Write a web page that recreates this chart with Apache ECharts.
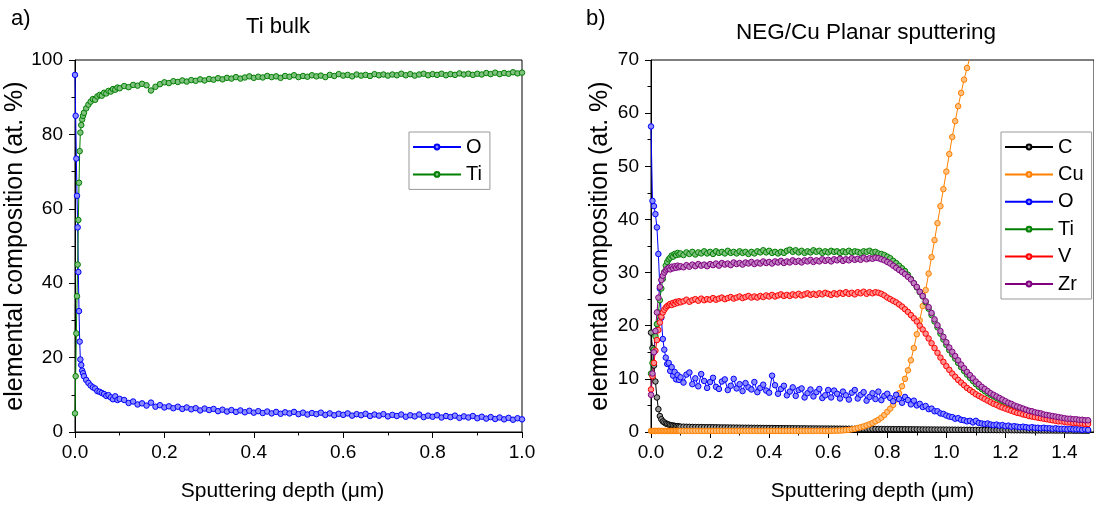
<!DOCTYPE html>
<html>
<head>
<meta charset="utf-8">
<script src="https://cdn.jsdelivr.net/npm/echarts@6/dist/echarts.min.js"></script>
<style>html,body{margin:0;padding:0;background:#fff}#c{width:1094px;height:508px}</style>
</head>
<body>
<div id="c"></div>
<script>
// ---------- Panel a) Ti bulk ----------
const depthA = [0,0.0015,0.003,0.0045,0.006,0.0075,0.009,0.0105,0.012,0.014,0.016,0.018,0.02,0.025,0.03,0.035,0.04,0.045,0.05,0.055,0.06,0.065,0.07,0.075,0.08,0.085,0.09,0.095,0.1,
0.11,0.12,0.13,0.14,0.15,0.16,0.17,0.18,0.19,0.20,
0.21,0.22,0.23,0.24,0.25,0.26,0.27,0.28,0.29,0.30,
0.31,0.32,0.33,0.34,0.35,0.36,0.37,0.38,0.39,0.40,
0.41,0.42,0.43,0.44,0.45,0.46,0.47,0.48,0.49,0.50,
0.51,0.52,0.53,0.54,0.55,0.56,0.57,0.58,0.59,0.60,
0.61,0.62,0.63,0.64,0.65,0.66,0.67,0.68,0.69,0.70,
0.71,0.72,0.73,0.74,0.75,0.76,0.77,0.78,0.79,0.80,
0.81,0.82,0.83,0.84,0.85,0.86,0.87,0.88,0.89,0.90,
0.91,0.92,0.93,0.94,0.95,0.96,0.97,0.98,0.99,1.00];

const oA = [96,85,73.5,63.5,55,43,32.5,24.3,19.5,18,16.5,15.8,15,14,13.2,12.5,12,11.7,11,10.8,10.5,10.2,9.7,9.9,9.3,8.8,9.6,8.6,8.9,
8.6,7.8,8.2,7.4,7.7,7.1,7.9,6.8,7.2,6.6,
6.9,6.4,6.8,6.2,6.6,6.1,6.4,5.8,6.3,5.9,
6.2,5.6,6.0,5.5,5.9,5.4,5.8,5.3,5.7,5.2,
5.6,5.1,5.5,5.0,5.4,4.9,5.3,5.0,5.4,4.8,
5.2,4.7,5.1,4.8,5.2,4.6,5.0,4.5,4.9,4.6,
5.0,4.4,4.8,4.5,4.9,4.3,4.7,4.4,4.8,4.2,
4.6,4.3,4.7,4.1,4.5,4.2,4.7,4.0,4.4,4.1,
4.5,3.9,4.3,4.0,4.4,3.8,4.2,3.9,4.3,3.7,
4.1,3.6,4.0,3.5,3.9,3.4,3.8,3.3,3.7,3.4];

const tiA = [5,15,26.5,36.5,45,57,67,75.5,80.5,82.5,84,85,85.8,87,88,88.8,89.5,89.3,90.2,90.6,90.4,91.2,91,91.7,91.5,92.2,92,92.6,92.4,
93.0,92.7,93.3,93.1,93.6,93.2,91.8,92.8,93.5,94.0,
93.8,94.3,94.1,94.5,94.2,94.6,94.4,94.8,94.5,94.9,
94.7,95.1,94.8,95.2,95.0,95.4,95.0,95.3,95.6,95.2,
95.5,95.3,95.7,95.4,95.6,95.2,95.7,95.5,95.9,95.4,
95.7,95.5,95.9,95.6,95.8,95.4,96.0,95.7,96.2,95.8,
96.0,95.6,96.1,95.8,96.0,95.7,96.2,95.9,96.1,95.8,
96.1,95.9,96.3,95.9,96.2,95.8,96.1,96.3,95.9,96.2,
96.0,96.3,95.9,96.2,96.0,96.4,96.1,96.3,96.0,96.3,
96.1,96.5,96.2,96.6,96.2,96.5,96.3,96.7,96.4,96.6];

// ---------- Panel b) NEG/Cu Planar sputtering ----------
const depthB = [0,0.005,0.01,0.015,0.02,0.025,0.03,0.035,0.04,0.045,0.05,0.055,0.06,0.065,0.07,0.075,0.08,0.085,0.09,0.095,0.1,
0.11,0.12,0.13,0.14,0.15,0.16,0.17,0.18,0.19,0.20,
0.21,0.22,0.23,0.24,0.25,0.26,0.27,0.28,0.29,0.30,
0.31,0.32,0.33,0.34,0.35,0.36,0.37,0.38,0.39,0.40,
0.41,0.42,0.43,0.44,0.45,0.46,0.47,0.48,0.49,0.50,
0.51,0.52,0.53,0.54,0.55,0.56,0.57,0.58,0.59,0.60,
0.61,0.62,0.63,0.64,0.65,0.66,0.67,0.68,0.69,0.70,
0.71,0.72,0.73,0.74,0.75,0.76,0.77,0.78,0.79,0.80,
0.81,0.82,0.83,0.84,0.85,0.86,0.87,0.88,0.89,0.90,
0.91,0.92,0.93,0.94,0.95,0.96,0.97,0.98,0.99,1.00,
1.01,1.02,1.03,1.04,1.05,1.06,1.07,1.08,1.09,1.10,
1.11,1.12,1.13,1.14,1.15,1.16,1.17,1.18,1.19,1.20,
1.21,1.22,1.23,1.24,1.25,1.26,1.27,1.28,1.29,1.30,
1.31,1.32,1.33,1.34,1.35,1.36,1.37,1.38,1.39,1.40,
1.41,1.42,1.43,1.44,1.45,1.46,1.47,1.48];

const cB = [18.7,15.8,12.5,9.5,6.5,4.3,3.0,2.4,2.0,1.8,1.6,1.5,1.4,1.3,1.25,1.2,1.15,1.1,1.1,1.05,1.0,
1.0,0.98,0.97,0.95,0.94,0.93,0.92,0.91,0.9,0.9,
0.89,0.88,0.87,0.86,0.86,0.85,0.84,0.83,0.83,0.82,
0.81,0.8,0.8,0.79,0.78,0.78,0.77,0.76,0.76,0.75,
0.75,0.74,0.73,0.73,0.72,0.72,0.71,0.71,0.7,0.7,
0.69,0.69,0.68,0.68,0.67,0.67,0.66,0.66,0.65,0.65,
0.64,0.64,0.63,0.63,0.62,0.62,0.61,0.61,0.6,0.6,
0.59,0.59,0.58,0.58,0.57,0.57,0.56,0.56,0.55,0.55,
0.54,0.54,0.53,0.53,0.52,0.52,0.51,0.51,0.5,0.5,
0.49,0.49,0.48,0.48,0.47,0.47,0.46,0.46,0.45,0.45,
0.44,0.44,0.43,0.43,0.42,0.42,0.41,0.41,0.4,0.4,
0.39,0.39,0.38,0.38,0.37,0.37,0.36,0.36,0.35,0.35,
0.34,0.34,0.33,0.33,0.32,0.32,0.31,0.31,0.3,0.3,
0.3,0.29,0.29,0.28,0.28,0.28,0.27,0.27,0.27,0.26,
0.26,0.26,0.25,0.25,0.25,0.24,0.24,0.24];

const cuB = [0.2,0.2,0.2,0.2,0.2,0.2,0.2,0.2,0.2,0.2,0.2,0.2,0.2,0.2,0.2,0.2,0.2,0.2,0.2,0.2,0.2,
0.2,0.2,0.2,0.2,0.2,0.2,0.2,0.2,0.2,0.2,
0.2,0.2,0.2,0.2,0.2,0.2,0.2,0.2,0.2,0.2,
0.2,0.2,0.2,0.2,0.2,0.2,0.2,0.2,0.2,0.2,
0.2,0.2,0.2,0.2,0.2,0.2,0.2,0.2,0.2,0.2,
0.2,0.2,0.2,0.2,0.2,0.2,0.2,0.2,0.2,0.2,
0.22,0.23,0.25,0.27,0.3,0.35,0.4,0.5,0.6,0.75,
0.9,1.05,1.25,1.45,1.7,2.0,2.3,2.7,3.2,3.8,
4.4,5.1,6.1,7.3,8.6,10.0,11.6,13.5,15.8,18.4,
21.0,23.7,26.7,29.8,32.9,36.1,39.3,42.5,45.7,49.0,
52.3,55.5,58.5,61.3,63.8,66.3,68.5,70.5,72.5];

const oB = [57.5,43.5,42.5,41,38.5,33.5,27,21.5,17.5,15.5,14,12.8,13,11.5,12.2,10.6,11.3,9.9,10.7,9.8,10.3,
9.3,10.8,11.2,9.0,10.1,8.6,10.9,9.6,8.3,9.4,
10.2,8.5,8.1,9.5,9.9,7.9,8.7,10.0,8.2,9.0,
7.7,9.2,8.4,8.0,9.4,7.5,8.3,8.9,7.8,7.4,
10.6,8.8,7.2,8.1,8.7,6.9,7.6,8.4,6.8,7.9,
8.2,6.5,7.3,8.0,6.7,7.5,8.1,6.4,6.9,7.9,
6.5,7.8,7.2,6.3,7.6,6.9,6.1,7.4,7.9,6.3,
7.0,7.5,5.9,6.6,7.3,6.2,7.6,6.0,6.8,7.2,
6.4,5.8,7.0,6.2,5.5,6.6,6.0,5.2,5.9,5.0,
5.3,4.7,4.9,4.3,4.4,3.9,3.9,3.5,3.4,3.1,
2.9,2.8,2.5,2.6,2.3,2.2,2.0,2.1,1.8,2.1,
1.7,1.6,1.5,1.6,1.4,1.3,1.4,1.2,1.3,1.1,
1.2,1.0,1.1,1.0,0.9,1.0,0.9,0.8,0.9,0.8,
0.8,0.7,0.8,0.7,0.7,0.6,0.7,0.6,0.6,0.6,
0.5,0.6,0.5,0.5,0.5,0.4,0.5,0.4];

const tiB = [11,13,15.5,18,20.3,22.5,24.8,27,28.8,30.1,31.3,32.0,32.5,32.8,33.2,33.0,33.5,33.3,33.7,33.4,33.6,
33.3,33.8,33.5,33.9,33.4,33.8,33.6,34.0,33.6,33.9,
33.5,34.0,33.7,33.9,33.6,34.1,33.7,33.9,33.6,34.0,
33.7,33.9,33.5,33.9,33.6,34.0,33.8,34.2,33.8,34.1,
33.7,33.9,33.6,33.9,33.7,34.1,34.3,33.9,34.2,33.8,
34.1,33.7,34.0,33.8,34.2,33.9,34.1,33.7,34.0,33.8,
34.1,33.9,34.0,33.7,34.0,33.8,34.1,33.8,34.0,33.9,
33.7,34.0,33.9,34.1,33.8,33.9,33.6,33.5,33.3,33.0,
32.7,32.2,31.8,31.3,30.8,30.3,29.6,28.8,28.0,27.2,
26.3,25.5,24.4,23.2,22.0,20.8,19.7,18.5,17.4,16.4,
15.4,14.6,13.8,13.0,12.2,11.5,10.8,10.2,9.6,9.0,
8.5,8.1,7.7,7.3,7.0,6.7,6.4,6.1,5.8,5.5,
5.2,5.0,4.7,4.5,4.3,4.1,3.9,3.8,3.6,3.5,
3.3,3.2,3.1,3.0,2.9,2.8,2.7,2.6,2.5,2.4,
2.3,2.2,2.2,2.1,2.0,2.0,1.9,1.9];

const vB = [8,10.5,13,15.3,17.3,19.2,20.6,21.7,22.5,23.0,23.4,23.7,23.9,24.1,23.9,24.3,24.1,24.5,24.3,24.6,24.4,
24.6,24.9,24.5,24.8,25.0,24.7,25.1,24.8,25.0,24.9,
25.2,24.9,25.1,25.3,25.0,25.2,25.4,25.1,25.3,25.5,
25.2,25.4,25.6,25.3,25.5,25.3,25.6,25.4,25.7,25.5,
25.8,25.5,25.7,25.9,25.6,25.8,25.6,25.9,25.7,26.0,
25.7,25.9,26.1,25.8,26.0,25.8,26.1,25.9,26.2,26.0,
25.8,26.1,25.9,26.2,26.0,26.3,26.0,26.2,25.9,26.3,
26.1,26.4,26.0,26.3,26.1,26.3,26.2,26.0,25.7,25.3,
25.0,24.7,24.4,24.0,23.6,23.1,22.6,22.0,21.4,20.8,
20.0,19.3,18.5,17.6,16.7,15.8,14.9,14.0,13.2,12.4,
11.7,11.0,10.4,9.8,9.3,8.8,8.3,7.9,7.5,7.1,
6.8,6.5,6.2,5.9,5.6,5.3,5.1,4.8,4.6,4.4,
4.2,4.0,3.8,3.6,3.5,3.3,3.2,3.0,2.9,2.8,
2.7,2.6,2.5,2.4,2.3,2.2,2.1,2.0,2.0,1.9,
1.8,1.8,1.7,1.7,1.6,1.6,1.5,1.5];

const zrB = [7,11,15,19,22.5,25.3,27.3,28.6,29.4,30.0,30.4,30.7,30.9,30.6,31.1,30.8,31.2,30.9,31.3,31.0,31.2,
31.0,31.4,31.1,31.5,31.2,31.6,31.3,31.5,31.2,31.6,
31.4,31.7,31.3,31.8,31.5,31.7,31.4,31.9,31.6,31.8,
31.5,31.9,31.7,32.0,31.6,31.9,31.7,32.1,31.8,32.0,
31.7,32.1,31.9,32.2,31.8,32.1,31.9,32.3,32.0,32.2,
31.9,32.3,32.1,32.4,32.0,32.3,32.1,32.5,32.2,32.4,
32.1,32.5,32.3,32.6,32.2,32.5,32.3,32.7,32.4,32.6,
32.4,32.8,32.5,32.7,32.6,32.8,32.7,32.5,32.3,32.0,
31.7,31.3,30.9,30.5,30.1,29.7,29.2,28.7,28.0,27.3,
26.4,25.6,24.6,23.5,22.4,21.2,20.1,19.0,17.9,16.9,
15.9,15.1,14.3,13.5,12.7,12.0,11.3,10.7,10.1,9.5,
9.0,8.5,8.1,7.7,7.3,7.0,6.7,6.4,6.1,5.8,
5.5,5.3,5.0,4.8,4.6,4.4,4.2,4.0,3.9,3.7,
3.6,3.5,3.3,3.2,3.1,3.0,2.9,2.8,2.7,2.6,
2.5,2.5,2.4,2.4,2.3,2.3,2.2,2.2];

const xTicksFmt = v => v.toFixed(1);
const FONT = 'Liberation Sans, Arial, Helvetica, sans-serif';

const chart = echarts.init(document.getElementById('c'), null, {renderer: 'canvas'});

function pairs(xs, ys) { return ys.map((y, i) => [xs[i], y]); }
function mkSeries(name, xs, ys, color, fill, xi) {
  return {
    name: name, type: 'line', xAxisIndex: xi, yAxisIndex: xi,
    data: pairs(xs, ys),
    symbol: 'circle', symbolSize: 5.5, showSymbol: true,
    lineStyle: {color: color, width: 1},
    itemStyle: {color: fill, borderColor: color, borderWidth: 1},
    clip: true, animation: false
  };
}

const axisCommon = {
  axisLine: {show: true, onZero: false, lineStyle: {color: '#000', width: 1}},
  axisTick: {show: true, inside: false, length: 6, lineStyle: {color: '#000', width: 1}},
  minorTick: {show: true, splitNumber: 2, length: 3.5, lineStyle: {color: '#000', width: 1}},
  splitLine: {show: false},
  axisLabel: {color: '#000', fontSize: 19, fontFamily: FONT}
};

const legendCommon = {
  orient: 'vertical', padding: [5, 8, 5, 3], itemGap: 7.4, itemWidth: 48, itemHeight: 6,
  borderColor: '#999', borderWidth: 1, backgroundColor: '#fff', borderRadius: 0,
  textStyle: {color: '#000', fontSize: 20, fontFamily: FONT, lineHeight: 18},
  selectedMode: false
};

const option = {
  animation: false,
  backgroundColor: '#fff',
  grid: [
    {left: 75, right: 572, top: 60, bottom: 76, show: true, borderColor: '#000', borderWidth: 1, backgroundColor: 'transparent'},
    {left: 651, right: -5, top: 60, bottom: 76, show: true, borderColor: '#000', borderWidth: 1, backgroundColor: 'transparent'}
  ],
  xAxis: [
    Object.assign({}, axisCommon, {
      gridIndex: 0, type: 'value', min: 0, max: 1, interval: 0.2,
      axisLabel: Object.assign({}, axisCommon.axisLabel, {margin: 11, formatter: xTicksFmt}),
      name: 'Sputtering depth (\u03bcm)', nameLocation: 'middle', nameGap: 49,
      nameTextStyle: {color: '#000', fontSize: 21, fontFamily: FONT, padding: [0, 32, 0, 0]}
    }),
    Object.assign({}, axisCommon, {
      gridIndex: 1, type: 'value', min: 0, max: 1.5, interval: 0.2,
      axisLabel: Object.assign({}, axisCommon.axisLabel, {margin: 11, formatter: xTicksFmt, showMaxLabel: false}),
      name: 'Sputtering depth (\u03bcm)', nameLocation: 'middle', nameGap: 49,
      nameTextStyle: {color: '#000', fontSize: 21, fontFamily: FONT}
    })
  ],
  yAxis: [
    Object.assign({}, axisCommon, {
      gridIndex: 0, type: 'value', min: 0, max: 100, interval: 20,
      axisLabel: Object.assign({}, axisCommon.axisLabel, {margin: 12}),
      name: 'elemental composition (at. %)', nameLocation: 'middle', nameGap: 38,
      nameTextStyle: {color: '#000', fontSize: 25, fontFamily: FONT}
    }),
    Object.assign({}, axisCommon, {
      gridIndex: 1, type: 'value', min: 0, max: 70, interval: 10,
      axisLabel: Object.assign({}, axisCommon.axisLabel, {margin: 12}),
      name: 'elemental composition (at. %)', nameLocation: 'middle', nameGap: 38,
      nameTextStyle: {color: '#000', fontSize: 25, fontFamily: FONT}
    })
  ],
  legend: [
    Object.assign({}, legendCommon, {data: ['O', 'Ti'].map(n => ({name: n})), left: 409, top: 132}),
    Object.assign({}, legendCommon, {data: ['C', 'Cu', 'O', 'Ti', 'V', 'Zr'].map(n => ({name: n})), left: 1001, top: 132})
  ],
  graphic: [
    {type: 'text', left: 11, top: 8, style: {text: 'a)', fontSize: 22, fontFamily: FONT, fill: '#000'}},
    {type: 'text', x: 278, y: 27, style: {text: 'Ti bulk', fontSize: 22, fontFamily: FONT, fill: '#000', align: 'center', verticalAlign: 'middle'}},
    {type: 'text', left: 586, top: 8, style: {text: 'b)', fontSize: 22, fontFamily: FONT, fill: '#000'}},
    {type: 'text', x: 866, y: 33, style: {text: 'NEG/Cu Planar sputtering', fontSize: 22.5, fontFamily: FONT, fill: '#000', align: 'center', verticalAlign: 'middle'}}
  ],
  series: [
    mkSeries('O', depthA, oA, '#0000ff', '#8c8cff', 0),
    mkSeries('Ti', depthA, tiA, '#008000', '#80c080', 0),
    mkSeries('C', depthB, cB, '#000000', '#9a9a9a', 1),
    mkSeries('Cu', depthB, cuB, '#ff8000', '#ffc080', 1),
    mkSeries('O', depthB, oB, '#0000ff', '#8c8cff', 1),
    mkSeries('Ti', depthB, tiB, '#008000', '#80c080', 1),
    mkSeries('V', depthB, vB, '#ff0000', '#ff9090', 1),
    mkSeries('Zr', depthB, zrB, '#800080', '#c080c0', 1)
  ]
};
chart.setOption(option);
</script>
</body>
</html>
